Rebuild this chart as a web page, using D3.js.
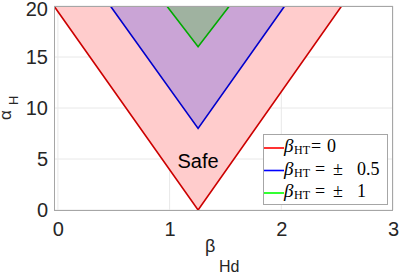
<!DOCTYPE html>
<html>
<head>
<meta charset="utf-8">
<script src="https://cdn.jsdelivr.net/npm/d3@7"></script>
<style>
  body { margin: 0; background: #fff; }
  svg { display: block; font-family: "Liberation Sans", Arial, sans-serif; }
  .cm { font-family: "Liberation Serif", "DejaVu Serif", serif; }
</style>
</head>
<body>
<div id="chart"></div>
<script>
// boundaries of the safe region, one V per beta_HT value
const redLine = [[-0.035, 20], [1.255, 0], [2.54, 20]];
const blueLine = [[0.47, 20], [1.255, 8], [2.03, 20]];
const greenLine = [[0.975, 20], [1.255, 16], [1.535, 20]];
const xTicks = [0, 1, 2, 3];
const yTicks = [0, 5, 10, 15, 20];
const legendValues = ['0', '0.5', '1'];

const width = 399, height = 275;
const margin = {top: 6, right: 6, bottom: 65, left: 54};

const svg = d3.select('#chart').append('svg')
  .attr('width', width)
  .attr('height', height);

const x = d3.scaleLinear().domain([-0.035, 3]).range([margin.left, width - margin.right]);
const y = d3.scaleLinear().domain([0, 20]).range([height - margin.bottom, margin.top]);

svg.append('defs').append('clipPath').attr('id', 'plot-clip')
  .append('rect')
  .attr('x', x.range()[0]).attr('y', y.range()[1])
  .attr('width', x.range()[1] - x.range()[0])
  .attr('height', y.range()[0] - y.range()[1]);

// grid
const grid = svg.append('g');
grid.selectAll('.gx').data(xTicks).join('line')
  .attr('x1', d => x(d)).attr('x2', d => x(d))
  .attr('y1', y(0)).attr('y2', y(20))
  .attr('stroke', '#e8e8e8').attr('stroke-width', 1);
grid.selectAll('.gy').data(yTicks).join('line')
  .attr('x1', x.range()[0]).attr('x2', x.range()[1])
  .attr('y1', d => y(d)).attr('y2', d => y(d))
  .attr('stroke', '#e8e8e8').attr('stroke-width', 1);

const plot = svg.append('g').attr('clip-path', 'url(#plot-clip)');
const line = d3.line().x(d => x(d[0])).y(d => y(d[1]));

const areas = [
  {pts: redLine, fill: '#ffcccc', stroke: '#cc0000', legend: '#ff0000'},
  {pts: blueLine, fill: '#caa4d6', stroke: '#0000cc', legend: '#0000ff'},
  {pts: greenLine, fill: '#9fb2a0', stroke: '#00aa00', legend: '#00ff00'}
];

areas.forEach(a => {
  plot.append('path')
    .attr('d', line(a.pts) + 'Z')
    .attr('fill', a.fill);
});
areas.forEach(a => {
  plot.append('path')
    .attr('d', line(a.pts))
    .attr('fill', 'none')
    .attr('stroke', a.stroke)
    .attr('stroke-width', 1.6);
});

// axes box
svg.append('rect')
  .attr('x', x.range()[0] + 0.5).attr('y', y.range()[1] + 0.5)
  .attr('width', x.range()[1] - x.range()[0] - 1)
  .attr('height', y.range()[0] - y.range()[1])
  .attr('fill', 'none').attr('stroke', '#a6a6a6').attr('stroke-width', 1);

const xAxis = d3.axisBottom(x).tickValues(xTicks).tickSize(0).tickPadding(12).tickFormat(d3.format('d'));
const yAxis = d3.axisLeft(y).tickValues(yTicks).tickSize(0).tickPadding(6).tickFormat(d3.format('d'));

svg.append('g').attr('transform', `translate(0,${y(0)})`).call(xAxis)
  .attr('font-family', null)
  .call(g => g.select('.domain').remove())
  .selectAll('text').attr('font-size', 20).attr('fill', '#262626');
svg.append('g').attr('transform', `translate(${x.range()[0]},0)`).call(yAxis)
  .attr('font-family', null)
  .call(g => g.select('.domain').remove())
  .selectAll('text').attr('font-size', 20).attr('fill', '#262626')
  .attr('dy', (d) => d === 20 ? '0.45em' : '0.32em');

// Safe label
svg.append('text')
  .attr('x', x(1.255)).attr('y', y(4.1))
  .attr('text-anchor', 'middle')
  .attr('font-size', 20)
  .attr('fill', '#000')
  .text('Safe');

// axis titles
svg.append('text')
  .attr('x', 205).attr('y', 252)
  .attr('fill', '#262626').attr('font-size', 18).text('\u03b2');
svg.append('text')
  .attr('x', 219).attr('y', 272)
  .attr('fill', '#262626').attr('font-size', 16).text('Hd');

svg.append('text')
  .attr('transform', 'translate(11,120) rotate(-90)')
  .attr('fill', '#262626').attr('font-size', 17).text('\u03b1');
svg.append('text')
  .attr('transform', 'translate(18,105) rotate(-90)')
  .attr('fill', '#262626').attr('font-size', 13).text('H');

// legend
const lg = svg.append('g');
lg.append('rect')
  .attr('x', 263.5).attr('y', 134.5).attr('width', 124).attr('height', 70)
  .attr('fill', '#fff').attr('stroke', '#a6a6a6').attr('stroke-width', 1);
const rows = lg.selectAll('.row').data(areas).join('g')
  .attr('class', 'cm')
  .attr('transform', (d, i) => `translate(264,${148 + i * 22.5})`);
rows.append('line')
  .attr('x1', 0).attr('x2', 20).attr('y1', 0).attr('y2', 0)
  .attr('stroke', d => d.legend).attr('stroke-width', 1.6);
rows.append('text')
  .attr('x', 20).attr('y', 4).attr('font-style', 'italic')
  .attr('font-size', 19).attr('fill', '#000').text('\u03b2');
rows.append('text')
  .attr('x', 30).attr('y', 6)
  .attr('font-size', 12).attr('fill', '#000').text('HT');
rows.append('text')
  .attr('x', (d, i) => i === 0 ? 47 : 51).attr('y', 4)
  .attr('font-size', 18).attr('fill', '#000').text('=');
rows.filter((d, i) => i > 0).append('text')
  .attr('x', 69).attr('y', 4)
  .attr('font-size', 18).attr('fill', '#000').text('\u00b1');
rows.append('text')
  .attr('x', (d, i) => i === 0 ? 63 : 93).attr('y', 4)
  .attr('font-size', 18).attr('fill', '#000').text((d, i) => legendValues[i]);
</script>
</body>
</html>
